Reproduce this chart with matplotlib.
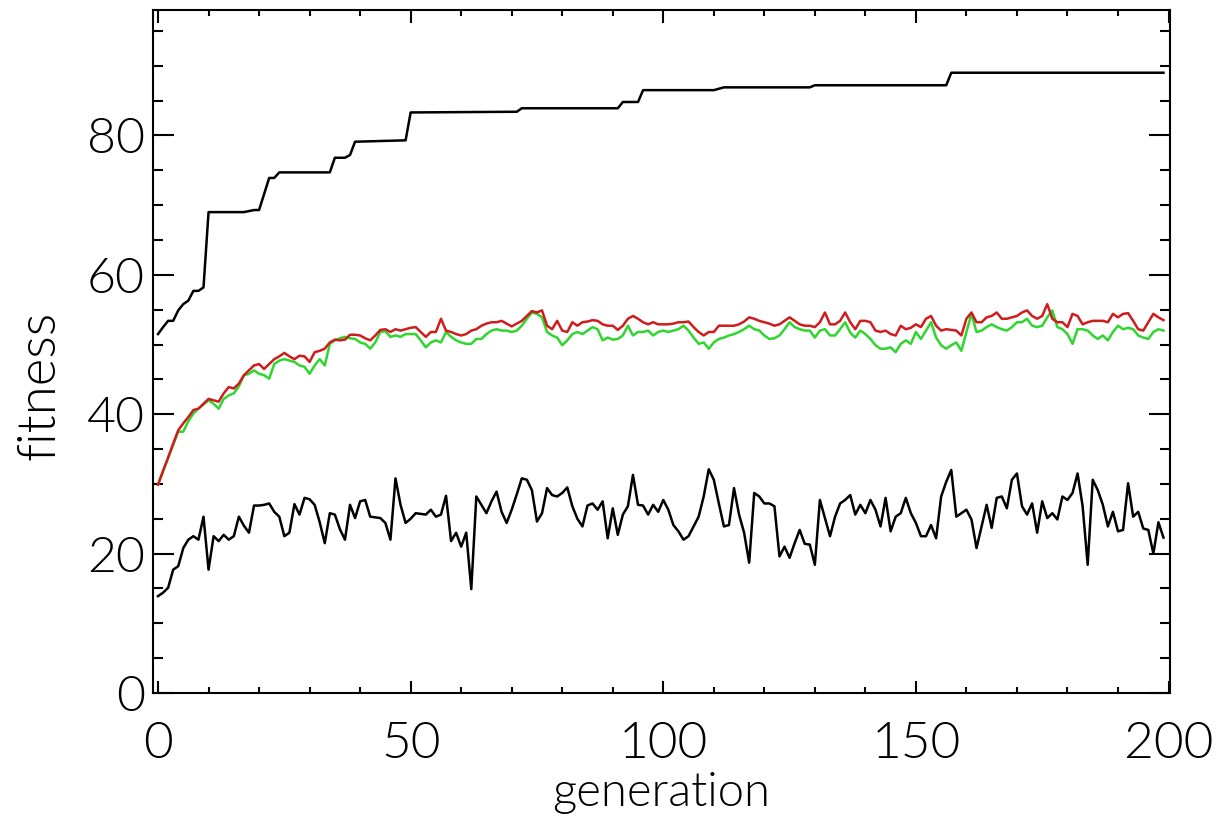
import numpy as np
import matplotlib
matplotlib.use('Agg')
import matplotlib.pyplot as plt
from matplotlib.ticker import MultipleLocator

matplotlib.rcParams.update({'font.family': ['Lato', 'DejaVu Sans'], 'font.weight': 300})

# best individual: vertices of the (stepwise) curve
best_gen = [0, 1, 2, 3, 4, 5, 6, 7, 8, 9, 10, 17, 19, 20, 22, 23, 24, 34, 35, 37, 38, 39,
            49, 50, 71, 72, 91, 92, 95, 96, 110, 112, 129, 130, 156, 157, 199]
best_fit = [51.5, 52.5, 53.4, 53.4, 54.9, 55.8, 56.3, 57.7, 57.7, 58.2, 69.0, 69.0, 69.3, 69.3,
            73.9, 73.9, 74.7, 74.7, 76.8, 76.8, 77.2, 79.1, 79.3, 83.3, 83.4, 83.9, 83.9, 84.8,
            84.8, 86.5, 86.5, 86.9, 86.9, 87.2, 87.2, 89.0, 89.0]

# mean fitness (red), one value per generation 0..199
mean_fit = [
    29.9, 31.9, 33.8, 35.8, 37.7, 38.7, 39.6, 40.6, 40.8, 41.5, 42.2, 42.0, 41.8, 43.0, 43.9,
    43.7, 44.4, 45.6, 46.3, 47.0, 47.2, 46.5, 47.2, 47.9, 48.3, 48.8, 48.3, 47.9, 48.4, 48.3,
    47.5, 48.9, 49.1, 49.4, 50.3, 50.7, 50.6, 50.7, 51.4, 51.4, 51.3, 50.9, 50.6, 51.3, 52.1,
    52.2, 51.8, 52.2, 52.0, 52.2, 52.4, 52.5, 51.8, 51.1, 51.8, 51.8, 53.7, 52.0, 51.8, 51.5,
    51.3, 51.5, 52.0, 52.2, 52.7, 53.0, 53.2, 53.2, 53.4, 53.0, 52.6, 53.0, 53.4, 54.1, 54.8,
    54.6, 54.9, 52.7, 52.2, 53.4, 52.0, 51.8, 53.2, 52.7, 53.2, 53.3, 53.5, 53.4, 52.9, 52.7,
    52.7, 52.1, 52.7, 53.7, 54.1, 53.7, 53.2, 52.9, 53.2, 52.9, 52.9, 52.9, 53.0, 53.2, 53.2,
    53.3, 52.5, 51.8, 51.3, 51.8, 51.8, 52.7, 52.7, 52.7, 52.7, 52.9, 53.3, 53.9, 53.7, 53.4,
    53.2, 53.0, 52.7, 52.9, 53.4, 53.9, 53.4, 52.9, 52.7, 52.7, 52.5, 53.2, 54.6, 52.9, 52.9,
    53.4, 54.6, 53.2, 52.2, 53.4, 53.4, 53.2, 52.0, 51.8, 52.0, 51.5, 51.3, 52.7, 52.2, 52.4,
    52.9, 52.5, 53.7, 54.1, 52.7, 52.0, 52.2, 52.1, 52.0, 51.3, 53.7, 54.6, 53.2, 53.2, 53.9,
    54.1, 54.6, 53.7, 53.7, 53.9, 54.1, 54.6, 54.9, 54.1, 53.7, 54.1, 55.8, 53.7, 53.2, 53.2,
    52.5, 54.4, 54.1, 52.9, 53.2, 53.4, 53.4, 53.4, 53.2, 54.4, 53.9, 54.4, 54.5, 53.4, 52.2,
    52.0, 53.2, 54.4, 53.9, 53.5]

# median fitness (green)
median_fit = [
    29.9, 31.8, 33.7, 35.6, 37.5, 37.5, 39.0, 40.1, 40.8, 41.4, 42.0, 41.5, 40.8, 42.2, 42.7,
    43.0, 44.0, 45.6, 45.8, 46.3, 45.8, 45.6, 45.1, 47.2, 47.7, 47.9, 47.7, 47.5, 47.0, 46.8,
    45.8, 47.0, 47.9, 47.0, 50.1, 50.6, 50.9, 51.1, 50.9, 50.8, 50.3, 50.1, 49.4, 50.3, 51.8,
    51.9, 51.1, 51.3, 51.1, 51.5, 51.5, 51.5, 50.6, 49.6, 50.3, 50.6, 50.3, 51.8, 51.1, 50.6,
    50.3, 50.1, 50.1, 50.8, 50.8, 51.5, 52.0, 52.2, 52.0, 52.0, 51.8, 52.0, 52.7, 53.7, 54.6,
    54.4, 53.9, 51.8, 51.3, 51.0, 49.9, 50.6, 51.5, 51.8, 51.5, 52.0, 52.5, 52.2, 50.6, 51.0,
    50.7, 50.8, 51.3, 52.7, 51.3, 51.8, 51.8, 52.0, 51.3, 51.8, 52.0, 51.8, 52.0, 52.2, 52.7,
    52.0, 51.0, 50.1, 50.3, 49.4, 50.3, 50.8, 51.0, 51.3, 51.5, 51.8, 52.2, 52.7, 52.2, 52.0,
    51.3, 50.8, 50.9, 51.3, 52.2, 53.2, 52.5, 52.2, 52.0, 52.0, 51.0, 52.0, 52.2, 51.3, 51.3,
    52.2, 53.2, 51.7, 51.0, 52.0, 51.5, 50.8, 49.9, 49.4, 49.4, 49.6, 48.9, 50.1, 50.6, 50.1,
    51.8, 50.8, 52.0, 53.2, 51.0, 49.9, 49.4, 49.9, 50.3, 49.1, 51.8, 54.4, 51.8, 52.0, 52.5,
    52.9, 52.5, 52.2, 52.0, 52.5, 53.2, 53.2, 53.7, 52.7, 52.5, 52.7, 53.9, 54.9, 52.5, 52.2,
    51.5, 50.1, 52.2, 52.2, 52.0, 51.3, 50.8, 51.3, 50.6, 51.8, 52.7, 52.2, 52.4, 52.2, 51.3,
    51.0, 50.8, 51.8, 52.2, 52.0]

# worst individual (lower black)
worst_fit = [
    13.9, 14.4, 15.1, 17.7, 18.2, 20.8, 22.0, 22.5, 22.0, 25.3, 17.7, 22.5, 21.8, 22.7, 22.0,
    22.5, 25.3, 24.0, 23.0, 26.9, 26.9, 27.0, 27.2, 26.0, 25.3, 22.5, 23.0, 27.1, 25.6, 28.0,
    27.8, 27.0, 24.5, 21.5, 25.8, 25.6, 23.5, 22.0, 27.0, 25.1, 27.5, 27.7, 25.3, 25.2, 25.1,
    24.4, 22.0, 30.8, 27.0, 24.4, 25.0, 25.8, 25.7, 25.6, 26.3, 25.3, 25.6, 28.3, 21.8, 23.0,
    21.0, 23.0, 14.9, 28.2, 27.0, 25.8, 27.5, 28.9, 26.0, 24.4, 26.3, 28.5, 30.8, 30.6, 29.1,
    24.6, 25.8, 29.4, 28.4, 28.2, 28.7, 29.5, 26.8, 25.0, 23.9, 26.9, 27.2, 26.3, 27.5, 22.2,
    26.5, 22.7, 25.6, 26.8, 31.3, 27.0, 26.9, 25.6, 27.0, 26.0, 27.7, 26.3, 24.1, 23.2, 22.0,
    22.5, 23.9, 25.3, 28.2, 32.1, 30.6, 27.2, 23.9, 24.1, 29.4, 25.6, 23.0, 18.7, 28.7, 28.2,
    27.2, 27.2, 26.8, 19.6, 21.0, 19.4, 21.5, 23.4, 21.4, 21.3, 18.4, 27.7, 25.1, 22.5, 25.3,
    27.2, 27.7, 28.4, 25.6, 27.0, 25.8, 27.7, 26.3, 23.9, 28.0, 23.2, 25.3, 25.8, 28.0, 25.8,
    24.4, 22.5, 22.5, 24.1, 22.2, 28.2, 30.3, 32.0, 25.3, 25.8, 26.3, 24.9, 20.8, 23.9, 27.0,
    23.7, 28.0, 28.2, 26.5, 30.6, 31.5, 26.8, 25.6, 27.2, 23.0, 27.5, 25.1, 25.8, 24.9, 28.2,
    27.7, 28.7, 31.5, 26.8, 18.4, 30.6, 29.1, 27.0, 23.9, 26.0, 23.2, 23.4, 30.1, 25.3, 26.0,
    23.6, 23.4, 20.0, 24.5, 22.3]

generations = np.arange(len(mean_fit))

fig = plt.figure(figsize=(12.16, 8.26), dpi=100)
ax = fig.add_axes([0.1258, 0.161, 0.8364, 0.8269])

ax.plot(generations, median_fit, color='#2fd62f', linewidth=1.8)
ax.plot(generations, mean_fit, color='#d01c1c', linewidth=1.8)
ax.plot(best_gen, best_fit, color='black', linewidth=1.8)
ax.plot(generations, worst_fit, color='black', linewidth=1.8)

ax.set_xlim(-1, 200.3)
ax.set_ylim(0, 98)
ax.xaxis.set_major_locator(MultipleLocator(50))
ax.xaxis.set_minor_locator(MultipleLocator(10))
ax.yaxis.set_major_locator(MultipleLocator(20))
ax.yaxis.set_minor_locator(MultipleLocator(5))

for s in ax.spines.values():
    s.set_linewidth(1.5)
ax.tick_params(axis='both', which='both', direction='in', top=True, right=True, width=1.5)
ax.tick_params(axis='x', which='major', length=9, labelsize=37, pad=20)
ax.tick_params(axis='x', which='minor', length=4.5)
ax.tick_params(axis='y', which='major', length=15, labelsize=36, pad=6)
ax.tick_params(axis='y', which='minor', length=7.5)
for lab in ax.get_xticklabels() + ax.get_yticklabels():
    lab.set_fontweight(300)

ax.set_xlabel('generation', fontsize=34, fontweight=300, labelpad=4)
ax.set_ylabel('fitness', fontsize=38, fontweight=300)
# label sits a bit below the middle of the axis in the original
ax.yaxis.set_label_coords(-0.088, 0.45)

plt.savefig('out.png', dpi=100)
